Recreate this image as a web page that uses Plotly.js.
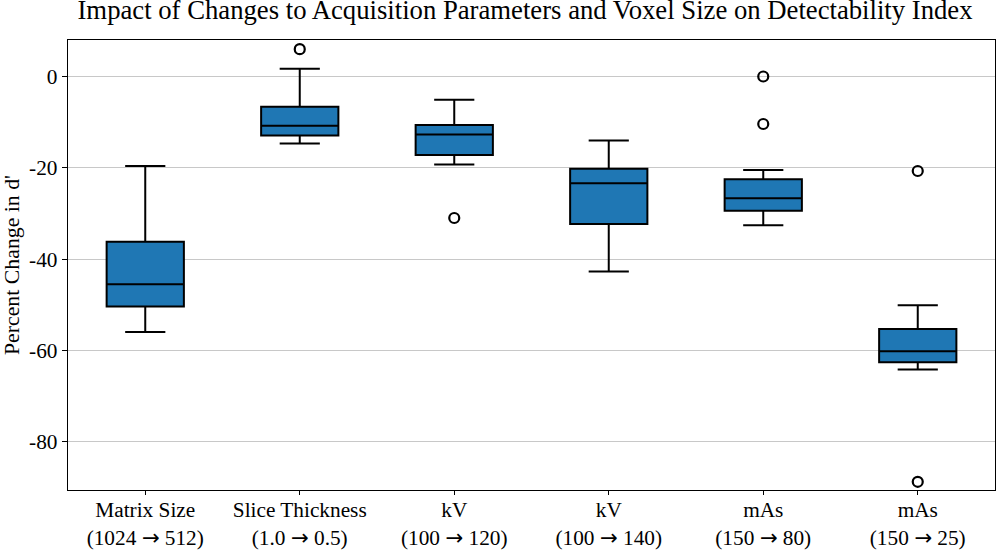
<!DOCTYPE html>
<html>
<head>
<meta charset="utf-8">
<script src="https://cdn.plot.ly/plotly-3.0.1.min.js"></script>
<style>html,body{margin:0;padding:0;background:#fff;}#chart{width:997px;height:551px;}</style>
</head>
<body>
<div id="chart"></div>
<script>
const ARROW = "<span style=\"font-family:'DejaVu Sans'\">→</span>";
const categories = [
  "Matrix Size<br>(1024 " + ARROW + " 512)",
  "Slice Thickness<br>(1.0 " + ARROW + " 0.5)",
  "kV<br>(100 " + ARROW + " 120)",
  "kV<br>(100 " + ARROW + " 140)",
  "mAs<br>(150 " + ARROW + " 80)",
  "mAs<br>(150 " + ARROW + " 25)"
];
const lowerWhisker = [-56.0, -14.7, -19.3, -42.7, -32.6, -64.2];
const q1Values     = [-50.4, -12.9, -17.2, -32.3, -29.4, -62.6];
const medianValues = [-45.5, -10.8, -12.7, -23.4, -26.7, -60.2];
const q3Values     = [-36.2, -6.6, -10.6, -20.2, -22.5, -55.3];
const upperWhisker = [-19.6, 1.7, -5.1, -14.0, -20.5, -50.1];
const outlierCategories = [categories[1], categories[2], categories[4], categories[4], categories[5], categories[5]];
const outlierValues = [6.0, -31.0, 0.0, -10.4, -20.7, -88.8];
const yTickVals = [0, -20, -40, -60, -80];
const yTickText = ["0", "-20", "-40", "-60", "-80"];

const serif = "Liberation Serif, Times New Roman, serif";

const traces = [
  {
    type: "box",
    x: categories,
    q1: q1Values,
    median: medianValues,
    q3: q3Values,
    lowerfence: lowerWhisker,
    upperfence: upperWhisker,
    width: 0.5,
    whiskerwidth: 0.52,
    fillcolor: "#1f77b4",
    line: {color: "#000000", width: 2},
    boxpoints: false,
    showlegend: false,
    hoverinfo: "y"
  },
  {
    type: "scatter",
    mode: "markers",
    x: outlierCategories,
    y: outlierValues,
    marker: {symbol: "circle-open", size: 10, color: "#000000", line: {width: 2.2, color: "#000000"}},
    showlegend: false
  }
];

const layout = {
  width: 997,
  height: 551,
  margin: {l: 68, r: 2, t: 40, b: 61},
  paper_bgcolor: "#ffffff",
  plot_bgcolor: "#ffffff",
  font: {family: serif, size: 21.3, color: "#000000"},
  title: {text: "Impact of Changes to Acquisition Parameters and Voxel Size on Detectability Index",
          x: 0.5266, xref: "container", xanchor: "center", y: 1.0, yref: "container", yanchor: "top",
          pad: {t: 0},
          font: {family: serif, size: 26.7, color: "#000000"}},
  xaxis: {
    type: "category",
    categoryorder: "array",
    categoryarray: categories,
    range: [-0.5, 5.5],
    showgrid: false,
    zeroline: false,
    showline: true, linecolor: "#000000", linewidth: 1.3, mirror: true,
    ticks: "outside", ticklen: 4, tickcolor: "#000000",
    ticklabelstandoff: -4,
    tickfont: {family: serif, size: 21.3, color: "#000000"}
  },
  yaxis: {
    range: [-90.6, 8.0],
    tickvals: yTickVals,
    ticktext: yTickText,
    showgrid: true, gridcolor: "#c8c8c8", gridwidth: 1,
    zeroline: false,
    showline: true, linecolor: "#000000", linewidth: 1.3, mirror: true,
    ticks: "outside", ticklen: 5, tickcolor: "#000000",
    tickfont: {family: serif, size: 21.3, color: "#000000"},
    title: {text: "Percent Change in d'", font: {family: serif, size: 21.8, color: "#000000"}, standoff: 6}
  }
};

Plotly.newPlot("chart", traces, layout, {displayModeBar: false, staticPlot: true});
</script>
</body>
</html>
